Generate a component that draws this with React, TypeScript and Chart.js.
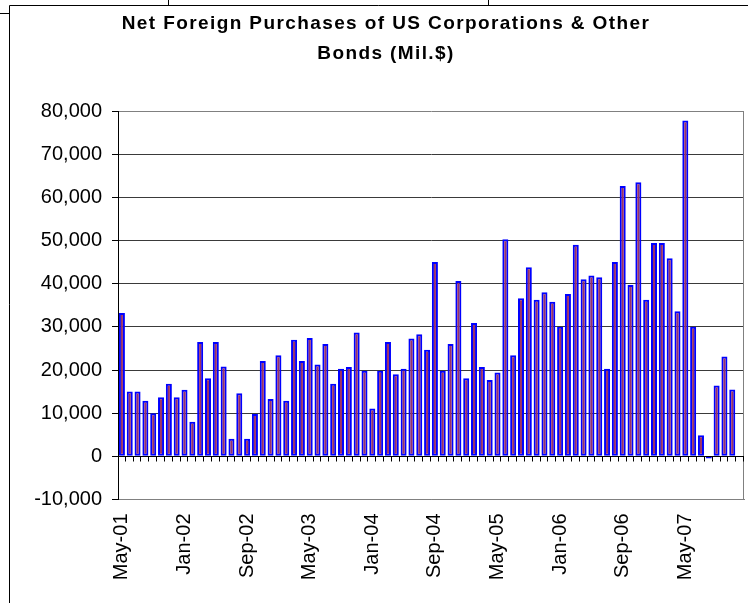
import React, { useEffect, useRef } from "react";
import { Chart, registerables } from "chart.js";

Chart.register(...registerables);

const months: string[] = [
  "May-01", "Jun-01", "Jul-01", "Aug-01", "Sep-01", "Oct-01", "Nov-01", "Dec-01",
  "Jan-02", "Feb-02", "Mar-02", "Apr-02", "May-02", "Jun-02", "Jul-02", "Aug-02", "Sep-02", "Oct-02", "Nov-02", "Dec-02",
  "Jan-03", "Feb-03", "Mar-03", "Apr-03", "May-03", "Jun-03", "Jul-03", "Aug-03", "Sep-03", "Oct-03", "Nov-03", "Dec-03",
  "Jan-04", "Feb-04", "Mar-04", "Apr-04", "May-04", "Jun-04", "Jul-04", "Aug-04", "Sep-04", "Oct-04", "Nov-04", "Dec-04",
  "Jan-05", "Feb-05", "Mar-05", "Apr-05", "May-05", "Jun-05", "Jul-05", "Aug-05", "Sep-05", "Oct-05", "Nov-05", "Dec-05",
  "Jan-06", "Feb-06", "Mar-06", "Apr-06", "May-06", "Jun-06", "Jul-06", "Aug-06", "Sep-06", "Oct-06", "Nov-06", "Dec-06",
  "Jan-07", "Feb-07", "Mar-07", "Apr-07", "May-07", "Jun-07", "Jul-07", "Aug-07", "Sep-07", "Oct-07", "Nov-07", "Dec-07",
];

// Net foreign purchases, millions of dollars (Dec-07 has no value)
const purchases: (number | null)[] = [
  33200, 15000, 15000, 12900, 10000, 13700, 16800, 13700,
  15400, 8000, 26500, 18100, 26500, 20800, 4100, 14600, 4100, 9800, 22100, 13300,
  23400, 12900, 27000, 22100, 27400, 21300, 26000, 16800, 20300, 20700, 28700, 19800,
  11100, 19800, 26500, 19000, 20300, 27300, 28300, 24700, 45000, 19800, 26000, 40600,
  18100, 30900, 20700, 17700, 19400, 50300, 23400, 36600, 43800, 36300, 38000, 35800,
  30000, 37600, 49000, 41000, 41900, 41500, 20300, 45000, 62600, 39700, 63500, 36300,
  49400, 49400, 45900, 33600, 77800, 30000, 4900, -500, 16400, 23100, 15500, null,
];

const titleLines: string[] = ["Net Foreign Purchases of US Corporations & Other", "Bonds (Mil.$)"];
const yMin = -10000;
const yMax = 80000;
const yStep = 10000;
const labelEvery = 8;

const FONT = "'Liberation Sans', Arial, sans-serif";

const decorPlugin = {
  id: "decor",
  beforeDraw(chart: any) {
    const ctx = chart.ctx;
    // widen the title's letter spacing (Excel-like rendering)
    const tb = chart.titleBlock;
    if (tb && !tb.__spaced) {
      const orig = tb.draw.bind(tb);
      tb.draw = (...args: any[]) => {
        const c = tb.ctx || chart.ctx;
        c.save();
        (c as any).letterSpacing = "1.4px";
        orig(...args);
        (c as any).letterSpacing = "0px";
        c.restore();
      };
      tb.__spaced = true;
    }
    ctx.save();
    ctx.fillStyle = "#ffffff";
    ctx.fillRect(0, 0, chart.width, chart.height);
    ctx.strokeStyle = "#000000";
    ctx.lineWidth = 1;
    ctx.beginPath();
    ctx.moveTo(9.5, chart.height);
    ctx.lineTo(9.5, 5.5);
    ctx.lineTo(chart.width, 5.5);
    ctx.moveTo(0, 13.5);
    ctx.lineTo(9.5, 13.5);
    ctx.moveTo(168.5, 0);
    ctx.lineTo(168.5, 5.5);
    ctx.moveTo(488.5, 0);
    ctx.lineTo(488.5, 5.5);
    ctx.stroke();
    ctx.restore();
  },
  afterDatasetsDraw(chart: any) {
    const { ctx, chartArea, scales } = chart;
    const xs = scales.x;
    const ys = scales.y;
    const y0 = Math.round(ys.getPixelForValue(0)) + 0.5;
    ctx.save();
    // right border of plot area
    ctx.strokeStyle = "#808080";
    ctx.lineWidth = 1;
    ctx.beginPath();
    const xr = Math.round(chartArea.right) - 0.5;
    ctx.moveTo(xr, chartArea.top);
    ctx.lineTo(xr, chartArea.bottom);
    ctx.stroke();
    // zero axis line and tick marks between categories
    ctx.strokeStyle = "#000000";
    ctx.beginPath();
    ctx.moveTo(chartArea.left, y0);
    ctx.lineTo(chartArea.right, y0);
    const n = months.length;
    for (let k = 1; k <= n; k++) {
      let bx: number;
      if (k === n) bx = chartArea.right;
      else bx = (xs.getPixelForValue(k - 1) + xs.getPixelForValue(k)) / 2;
      const px = Math.round(bx) - 0.5;
      ctx.moveTo(px, y0);
      ctx.lineTo(px, y0 + 5);
    }
    ctx.stroke();
    ctx.restore();
  },
};

export default function App() {
  const canvasRef = useRef<HTMLCanvasElement | null>(null);

  useEffect(() => {
    document.body.style.margin = "0";
    const canvas = canvasRef.current;
    if (!canvas) return;
    const chart = new Chart(canvas, {
      type: "bar",
      data: {
        labels: months,
        datasets: [
          {
            data: purchases as any,
            backgroundColor: "#993366",
            borderColor: "#0000FF",
            borderWidth: 2,
            borderSkipped: false,
            barPercentage: 0.77,
            categoryPercentage: 1,
          },
        ],
      },
      options: {
        responsive: false,
        animation: false,
        devicePixelRatio: 1,
        layout: { padding: { left: 28, right: 4, top: 0, bottom: 0 } },
        plugins: {
          legend: { display: false },
          tooltip: { enabled: false },
          title: {
            display: true,
            text: titleLines,
            color: "#000000",
            font: { family: FONT, size: 19, weight: "bold", lineHeight: 29.3 / 19 },
            padding: { top: 9.5, bottom: 42.9 },
          },
        },
        scales: {
          x: {
            type: "category",
            offset: true,
            grid: { display: false, drawTicks: false },
            border: { display: true, color: "#808080", width: 1 },
            ticks: {
              autoSkip: false,
              minRotation: 90,
              maxRotation: 90,
              padding: 14,
              color: "#000000",
              font: { family: FONT, size: 20 },
              callback: (_v: any, i: number) => (i % labelEvery === 0 ? months[i] : ""),
            },
            afterFit: (scale: any) => {
              scale.height = 103.5;
              scale.paddingLeft = 0;
              scale.paddingRight = 0;
            },
          },
          y: {
            min: yMin,
            max: yMax,
            grid: {
              drawTicks: true,
              tickLength: 6,
              tickColor: "#000000",
              lineWidth: 1,
              color: (c: any) => {
                const v = c.tick ? c.tick.value : null;
                if (v === 0) return "#000000";
                if (v === yMin || v === yMax) return "#808080";
                return "#3a3a3a";
              },
            },
            border: { display: true, color: "#000000", width: 1 },
            ticks: {
              stepSize: yStep,
              padding: 10,
              color: "#000000",
              font: { family: FONT, size: 20 },
              callback: (v: any) => Number(v).toLocaleString("en-US"),
            },
            afterFit: (scale: any) => {
              scale.width = 90;
            },
          },
        },
      },
      plugins: [decorPlugin],
    });
    return () => chart.destroy();
  }, []);

  return (
    <div style={{ position: "relative", width: 748, height: 603 }}>
      <canvas ref={canvasRef} width={748} height={603} style={{ display: "block" }} />
    </div>
  );
}
